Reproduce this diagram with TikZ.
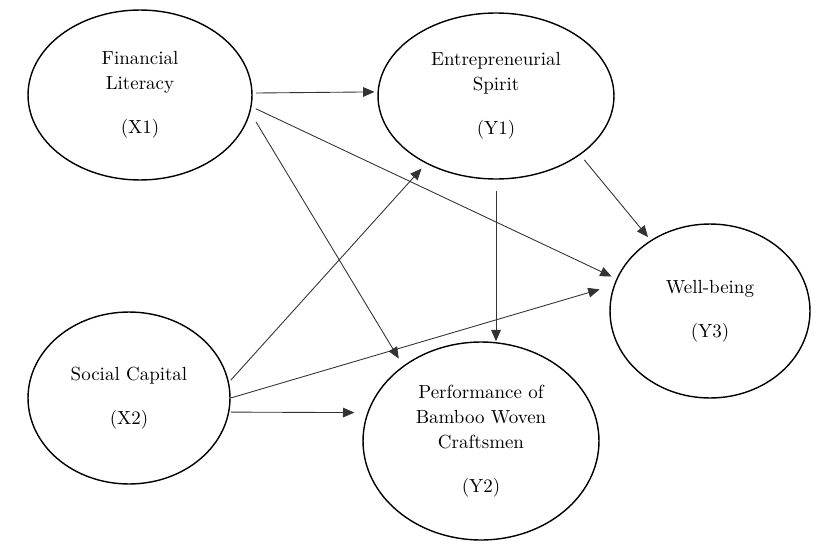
\documentclass[tikz,border=0pt]{standalone}
\usetikzlibrary{shapes.geometric, arrows.meta}

\begin{document}
\begin{tikzpicture}[x=0.02cm, y=-0.02cm,
    latent/.style={ellipse, draw=black, line width=0.8pt, inner sep=0pt, align=center,
        text=black, font=\fontsize{10.8}{14.2}\selectfont},
    link/.style={-{Triangle[length=6.5pt, width=5.5pt]}, draw=black!80, line width=0.5pt}]
        \useasboundingbox (0, 0) rectangle (817, 554);

        \node[latent, minimum width=4.48cm, minimum height=3.40cm] (x1) at (140, 95) {Financial\\Literacy\\[11pt](X1)};
        \node[latent, minimum width=4.04cm, minimum height=3.44cm] (x2) at (129, 398) {Social Capital\\[11pt](X2)};
        \node[latent, minimum width=4.72cm, minimum height=3.32cm] (y1) at (496, 96) {Entrepreneurial\\Spirit\\[11pt](Y1)};
        \node[latent, minimum width=4.72cm, minimum height=3.96cm] (y2) at (481, 441) {Performance of\\Bamboo Woven\\Craftsmen\\[11pt](Y2)};
        \node[latent, minimum width=4.00cm, minimum height=3.48cm] (y3) at (710, 311) {Well-being\\[11pt](Y3)};

        \draw[link, shorten <=1.8pt, shorten >=1.7pt] (x1.1.5) -- (y1.178.1);
        \draw[link, shorten <=2.6pt, shorten >=3pt] (x1.-6.2) -- (y3.161.2);
        \draw[link, shorten <=6.2pt, shorten >=4.8pt] (x1.-9.7) -- (y2.136.8);

        \draw[link, shorten <=1.5pt, shorten >=3.8pt] (x2.9.2) -- (y1.-136);
        \draw[link, shorten >=8.4pt] (x2.-0.6) -- (y3.165.3);
        \draw[link, shorten <=0.9pt, shorten >=7.3pt] (x2.-8.6) -- (y2.166.1);

        \draw[link, shorten <=6.2pt] (y1.south) -- (y1.south |- y2.north);
        \draw[link, shorten <=3.6pt, shorten >=2.3pt] (y1.-35.5) -- (y3.130.4);
    \end{tikzpicture}
\end{document}
